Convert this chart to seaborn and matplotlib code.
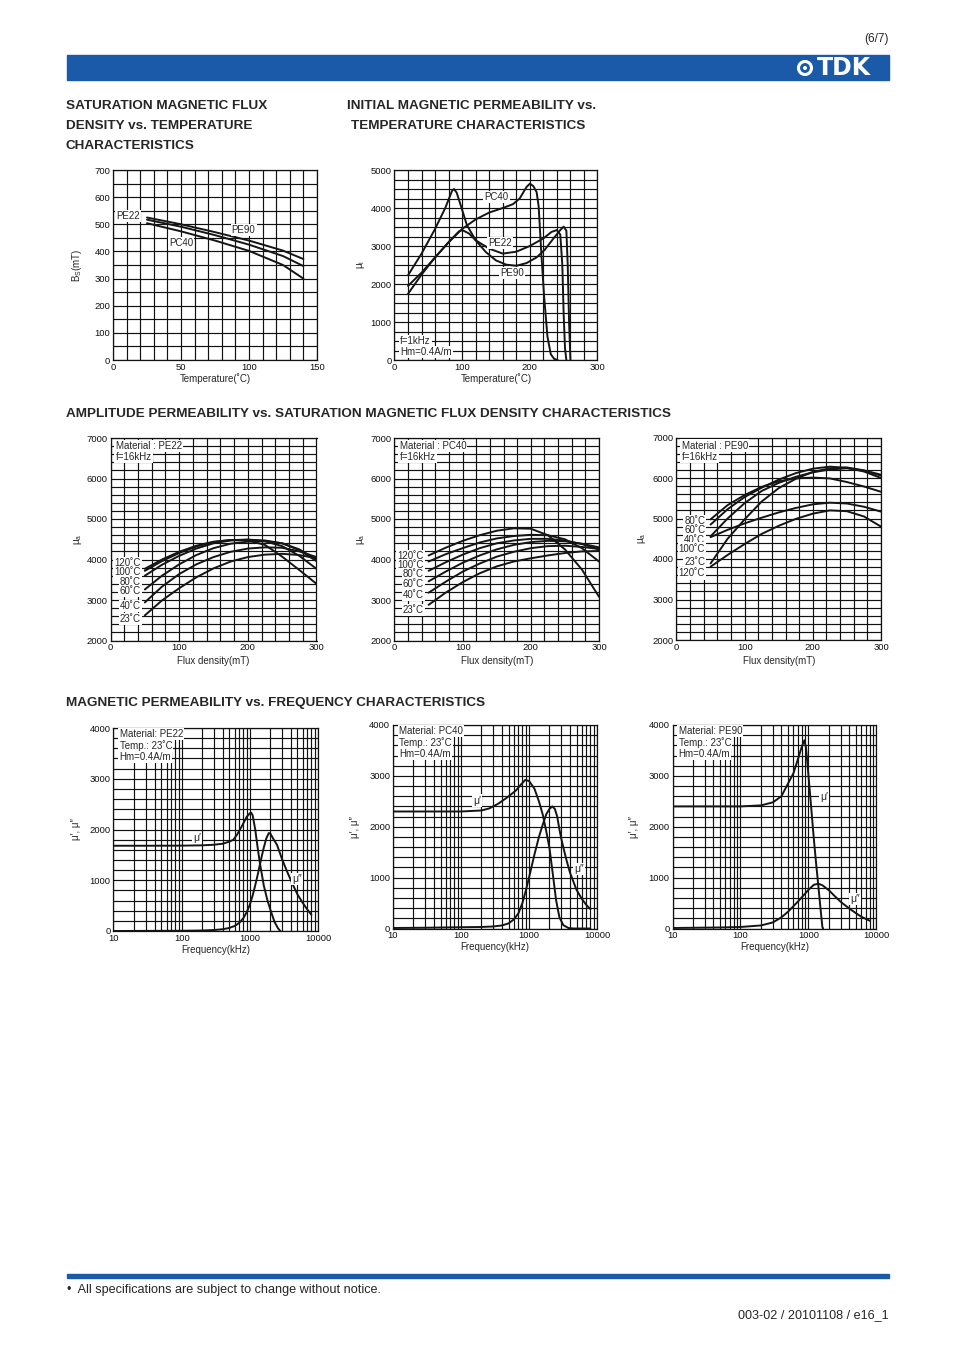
import numpy as np
import pandas as pd
import matplotlib
matplotlib.use("Agg")
import matplotlib.pyplot as plt
import seaborn as sns
from matplotlib.patches import Rectangle, Ellipse
from matplotlib.ticker import FixedLocator, NullFormatter

# ---------------- data ----------------
# Saturation flux density vs temperature
bs_temp = [25, 50, 75, 100, 125, 140]
bs_pe90 = [525, 500, 471, 440, 403, 372]
bs_pe22 = [517, 491, 460, 425, 383, 346]
bs_pc40 = [504, 474, 440, 402, 350, 300]

# Initial permeability vs temperature
mui_pc40_t = [20, 40, 60, 80, 100, 120, 140, 160, 175, 185, 195, 200, 205, 210, 213, 217, 221, 226, 231, 236, 241]
mui_pc40 = [1950, 2300, 2700, 3100, 3450, 3700, 3880, 4000, 4100, 4250, 4550, 4640, 4580, 4420, 4050, 2800, 1700, 620, 150, 30, 0]
mui_pe22_t = [20, 40, 60, 80, 95, 100, 110, 120, 140, 160, 180, 200, 220, 232, 240, 245, 248, 250, 252, 254]
mui_pe22 = [1740, 2250, 2700, 3100, 3380, 3420, 3330, 3150, 2930, 2800, 2850, 3000, 3200, 3370, 3420, 3300, 2500, 1200, 300, 0]
mui_pe90_t = [20, 40, 60, 75, 85, 88, 92, 100, 107, 120, 135, 150, 165, 180, 195, 210, 222, 235, 245, 250, 254, 256, 258, 260]
mui_pe90 = [2230, 2800, 3450, 4000, 4450, 4500, 4400, 3950, 3550, 3150, 2840, 2620, 2510, 2480, 2550, 2700, 2900, 3200, 3420, 3510, 3400, 2500, 1000, 0]

# Amplitude permeability vs flux density
flux = [50, 75, 100, 125, 150, 175, 200, 225, 250, 275, 300]
temps = ["120˚C", "100˚C", "80˚C", "60˚C", "40˚C", "23˚C"]
pe22_mua = [
    [3770, 4000, 4190, 4340, 4440, 4480, 4470, 4360, 4070, 3740, 3400],
    [3720, 3960, 4160, 4320, 4430, 4480, 4490, 4450, 4330, 4090, 3770],
    [3600, 3870, 4090, 4270, 4400, 4470, 4490, 4470, 4400, 4230, 3960],
    [3260, 3600, 3880, 4110, 4280, 4390, 4440, 4450, 4400, 4250, 4000],
    [2940, 3330, 3640, 3880, 4060, 4190, 4270, 4300, 4290, 4200, 4060],
    [2620, 2990, 3290, 3560, 3780, 3950, 4060, 4120, 4140, 4110, 4030],
]
pc40_mua = [
    [4100, 4290, 4460, 4600, 4710, 4770, 4760, 4600, 4250, 3750, 3080],
    [3950, 4130, 4280, 4420, 4520, 4580, 4610, 4600, 4500, 4280, 3950],
    [3720, 3930, 4120, 4280, 4400, 4470, 4510, 4510, 4470, 4380, 4250],
    [3460, 3700, 3920, 4100, 4250, 4360, 4430, 4460, 4450, 4390, 4300],
    [3180, 3450, 3700, 3900, 4070, 4190, 4280, 4330, 4340, 4310, 4260],
    [2880, 3180, 3440, 3660, 3830, 3950, 4030, 4100, 4160, 4200, 4210],
]
pe90_temps = ["80˚C", "60˚C", "40˚C", "100˚C", "23˚C", "120˚C"]
pe90_mua = [
    [4980, 5330, 5580, 5780, 5920, 5990, 6010, 5990, 5900, 5790, 5660],
    [4850, 5230, 5530, 5760, 5960, 6120, 6230, 6280, 6250, 6160, 6000],
    [4560, 5000, 5380, 5680, 5880, 6030, 6140, 6210, 6240, 6180, 6060],
    [4540, 4720, 4880, 5020, 5150, 5260, 5350, 5390, 5370, 5290, 5170],
    [3890, 4500, 4980, 5420, 5750, 5980, 6150, 6240, 6260, 6190, 6080],
    [3810, 4100, 4370, 4620, 4820, 4990, 5120, 5200, 5180, 5050, 4800],
]

# Complex permeability vs frequency
pe22_mu1_f = [10, 30, 100, 200, 300, 400, 500, 575, 650, 760, 900, 1000, 1050, 1100, 1200, 1300, 1400, 1600, 1800, 2000, 2300, 2600, 2800]
pe22_mu1 = [1680, 1680, 1682, 1688, 1700, 1720, 1760, 1800, 1900, 2060, 2250, 2320, 2330, 2280, 2000, 1650, 1350, 900, 620, 420, 180, 50, 0]
pe22_mu2_f = [10, 100, 200, 300, 400, 500, 600, 700, 800, 900, 1000, 1100, 1200, 1300, 1400, 1500, 1600, 1750, 1900, 2000, 2200, 2500, 3000, 3500, 4000, 4500, 5000, 6000, 7000, 8000]
pe22_mu2 = [0, 5, 10, 20, 35, 60, 100, 160, 250, 370, 520, 700, 900, 1100, 1300, 1480, 1640, 1830, 1930, 1920, 1820, 1700, 1400, 1180, 1000, 850, 720, 550, 420, 320]

pc40_mu1_f = [10, 100, 200, 260, 350, 460, 550, 650, 750, 880, 1000, 1200, 1400, 1600, 1800, 2000, 2250, 2500, 2800, 3200, 3800, 4500, 8000]
pc40_mu1 = [2300, 2300, 2320, 2360, 2450, 2560, 2640, 2720, 2820, 2920, 2900, 2750, 2500, 2230, 1900, 1580, 1050, 560, 220, 65, 10, 0, 0]
pc40_mu2_f = [10, 30, 100, 200, 300, 400, 500, 600, 700, 800, 900, 1000, 1200, 1400, 1600, 1800, 2000, 2200, 2400, 2600, 2800, 3000, 3500, 4000, 5000, 6000, 7000, 8000]
pc40_mu2 = [10, 15, 25, 30, 40, 60, 100, 180, 300, 500, 750, 1000, 1450, 1800, 2050, 2250, 2350, 2400, 2350, 2200, 1950, 1750, 1380, 1100, 760, 580, 460, 380]

pe90_mu1_f = [10, 100, 200, 300, 400, 500, 600, 700, 800, 870, 920, 1000, 1100, 1200, 1300, 1400, 1500, 1600, 1640]
pe90_mu1 = [2400, 2400, 2420, 2480, 2600, 2850, 3050, 3330, 3580, 3700, 3550, 3000, 2350, 1750, 1250, 820, 400, 30, 0]
pe90_mu2_f = [10, 50, 100, 200, 300, 400, 500, 700, 1000, 1200, 1400, 1600, 2000, 2500, 3000, 4000, 5000, 6000, 8000]
pe90_mu2 = [10, 20, 30, 60, 120, 220, 330, 530, 760, 860, 880, 850, 750, 620, 520, 390, 300, 230, 150]

# ---------------- style ----------------
sns.set_theme(style="white")
plt.rcParams['font.family'] = ['Liberation Sans', 'DejaVu Sans']
plt.rcParams['mathtext.fontset'] = 'custom'
plt.rcParams['mathtext.rm'] = 'Liberation Sans'
plt.rcParams['mathtext.it'] = 'Liberation Sans:italic'

W, H = 954, 1351
fig = plt.figure(figsize=(W / 100, H / 100), dpi=100)
BLUE = "#1a5aa8"
TS = 6.8
TG = 7.0
LW = 1.4


def ax_px(l, t, r, b):
    return fig.add_axes([l / W, 1 - b / H, (r - l) / W, (b - t) / H])


def draw(ax, series):
    rows = []
    for name, xs, ys in series:
        for x, y in zip(xs, ys):
            rows.append((name, x, y))
    df = pd.DataFrame(rows, columns=["series", "x", "y"])
    sns.lineplot(data=df, x="x", y="y", hue="series", estimator=None, sort=False,
                 palette=["#151515"] * len(series), legend=False, ax=ax, lw=LW)


def style(ax, xlim, ylim, xmaj, ymaj, xgrid, ygrid, log=False):
    if log:
        ax.set_xscale("log")
    ax.set_xlim(xlim)
    ax.set_ylim(ylim)
    ax.xaxis.set_major_locator(FixedLocator(xmaj))
    ax.set_xticklabels([str(v) for v in xmaj])
    ax.xaxis.set_minor_locator(FixedLocator(xgrid))
    ax.xaxis.set_minor_formatter(NullFormatter())
    ax.yaxis.set_major_locator(FixedLocator(ymaj))
    ax.set_yticklabels([str(v) for v in ymaj])
    ax.yaxis.set_minor_locator(FixedLocator(ygrid))
    ax.set_axisbelow(True)
    ax.grid(True, which="both", color="#111111", lw=0.85)
    ax.tick_params(which="both", length=0, labelsize=TS, pad=2, colors="#111111")
    for s in ax.spines.values():
        s.set_color("#111111")
        s.set_linewidth(0.9)


def labels(ax, xl, yl, xtop_px, yright_px, axbox):
    l, t, r, b = axbox
    ax.set_xlabel(xl, fontsize=7)
    ax.set_ylabel(yl, fontsize=7)
    ax.xaxis.set_label_coords(0.5, -(xtop_px - b) / (b - t))
    ax.yaxis.set_label_coords((yright_px - l) / (r - l), 0.5)


WB = dict(boxstyle="square,pad=0.12", fc="white", ec="none")


def tag(ax, x, y, s, ha="center", trans=None, size=TG):
    ax.text(x, y, s, ha=ha, va="center", fontsize=size, bbox=WB,
            transform=trans if trans is not None else ax.transData, zorder=5)


# ---------------- header / footer ----------------
fig.patches.append(Rectangle((67 / W, 1 - 80 / H), (889 - 67) / W, 25 / H,
                             transform=fig.transFigure, color=BLUE, zorder=0))
fig.text(889 / W, 1 - 39 / H, "(6/7)", ha="right", va="center", fontsize=8.5)
fig.text(871 / W, 1 - 68 / H, "TDK", ha="right", va="center", fontsize=17,
         fontweight="bold", color="white", family="DejaVu Sans")
fig.patches.append(Ellipse((805 / W, 1 - 68 / H), 13 / W, 13 / H, transform=fig.transFigure,
                           fc="none", ec="white", lw=2.2))
fig.patches.append(Ellipse((805 / W, 1 - 68 / H), 4 / W, 4 / H, transform=fig.transFigure,
                           fc="white", ec="none"))
fig.patches.append(Rectangle((67 / W, 1 - 1278 / H), (889 - 67) / W, 4 / H,
                             transform=fig.transFigure, color=BLUE))
fig.text(67 / W, 1 - 1290 / H, "•  All specifications are subject to change without notice.",
         ha="left", va="center", fontsize=9.1)
fig.text(889 / W, 1 - 1315 / H, "003-02 / 20101108 / e16_1", ha="right", va="center", fontsize=9.1)

TF = 9.7
fig.text(66 / W, 1 - 106 / H, "SATURATION MAGNETIC FLUX", fontsize=TF, fontweight="bold", va="center")
fig.text(66 / W, 1 - 126 / H, "DENSITY vs. TEMPERATURE", fontsize=TF, fontweight="bold", va="center")
fig.text(66 / W, 1 - 146 / H, "CHARACTERISTICS", fontsize=TF, fontweight="bold", va="center")
fig.text(347 / W, 1 - 106 / H, "INITIAL MAGNETIC PERMEABILITY vs.", fontsize=TF, fontweight="bold", va="center")
fig.text(351 / W, 1 - 126 / H, "TEMPERATURE CHARACTERISTICS", fontsize=TF, fontweight="bold", va="center")
fig.text(66 / W, 1 - 414 / H, "AMPLITUDE PERMEABILITY vs. SATURATION MAGNETIC FLUX DENSITY CHARACTERISTICS",
         fontsize=TF, fontweight="bold", va="center")
fig.text(66 / W, 1 - 703 / H, "MAGNETIC PERMEABILITY vs. FREQUENCY CHARACTERISTICS",
         fontsize=TF, fontweight="bold", va="center")

# ---------------- chart 1: Bs vs T ----------------
box = (113, 170, 317, 360)
ax = ax_px(*box)
draw(ax, [("PE90", bs_temp, bs_pe90), ("PE22", bs_temp, bs_pe22), ("PC40", bs_temp, bs_pc40)])
style(ax, (0, 150), (0, 700), [0, 50, 100, 150], list(range(0, 701, 100)),
      list(range(0, 151, 10)), list(range(0, 701, 50)))
labels(ax, "Temperature(˚C)", r"B$_\mathrm{S}$(mT)", 373, 84, box)
tag(ax, 11, 530, "PE22")
tag(ax, 96, 479, "PE90")
tag(ax, 50, 431, "PC40")

# ---------------- chart 2: mu_i vs T ----------------
box = (394.5, 170, 597.5, 360)
ax = ax_px(*box)
draw(ax, [("PC40", mui_pc40_t, mui_pc40), ("PE22", mui_pe22_t, mui_pe22), ("PE90", mui_pe90_t, mui_pe90)])
style(ax, (0, 300), (0, 5000), [0, 100, 200, 300], list(range(0, 5001, 1000)),
      list(range(0, 301, 20)), list(range(0, 5001, 250)))
labels(ax, "Temperature(˚C)", r"μ$_\mathrm{i}$", 373, 367, box)
tag(ax, 151, 4290, "PC40")
tag(ax, 156, 3079, "PE22")
tag(ax, 174, 2290, "PE90")
tag(ax, 0.027, 0.10, "f=1kHz", ha="left", trans=ax.transAxes)
tag(ax, 0.027, 0.042, "Hm=0.4A/m", ha="left", trans=ax.transAxes)

# ---------------- amplitude permeability charts ----------------
amp = [
    ((110.5, 438, 316.5, 640.5), "PE22", temps, pe22_mua, 84, 44,
     [3914, 3691, 3444, 3222, 2852, 2531]),
    ((394.5, 438, 599, 640.5), "PC40", temps, pc40_mua, 367, 43,
     [4086, 3864, 3642, 3395, 3123, 2753]),
    ((676.5, 437.5, 881, 640), "PE90", pe90_temps, pe90_mua, 648, 42,
     [4946, 4704, 4481, 4259, 3938, 3642]),
]
for box, mat, tl, vals, yr, lx, ly in amp:
    ax = ax_px(*box)
    draw(ax, [(t, flux, v) for t, v in zip(tl, vals)])
    style(ax, (0, 300), (2000, 7000), [0, 100, 200, 300], list(range(2000, 7001, 1000)),
          list(range(0, 301, 20)), list(range(2000, 7001, 200)))
    labels(ax, "Flux density(mT)", r"μ$_\mathrm{a}$", 656, yr, box)
    tag(ax, 0.025, 0.96, "Material : " + mat, ha="left", trans=ax.transAxes)
    tag(ax, 0.025, 0.906, "f=16kHz", ha="left", trans=ax.transAxes)
    for t, y in zip(tl, ly):
        tag(ax, lx, y, t, ha="right")

# ---------------- frequency charts ----------------
fmaj = [10, 100, 1000, 10000]
fgrid = [m * 10 ** e for e in range(1, 4) for m in range(1, 10)] + [10000]
freq = [
    ((113.5, 728, 318, 931), "PE22", pe22_mu1_f, pe22_mu1, pe22_mu2_f, pe22_mu2, 81,
     (168, 1832), (4900, 1025)),
    ((393, 725, 597, 928.5), "PC40", pc40_mu1_f, pc40_mu1, pc40_mu2_f, pc40_mu2, 360,
     (172, 2512), (5430, 1172)),
    ((672.5, 725, 876.5, 928.5), "PE90", pe90_mu1_f, pe90_mu1, pe90_mu2_f, pe90_mu2, 639,
     (1700, 2591), (4830, 581)),
]
for box, mat, f1, m1, f2, m2, yr, p1, p2 in freq:
    ax = ax_px(*box)
    draw(ax, [("mu1", f1, m1), ("mu2", f2, m2)])
    style(ax, (10, 10000), (0, 4000), fmaj, list(range(0, 4001, 1000)),
          fgrid, list(range(0, 4001, 200)), log=True)
    labels(ax, "Frequency(kHz)", "μ′, μ″", box[3] + 14, yr, box)
    h = box[3] - box[1]
    for i, s in enumerate(["Material: " + mat, "Temp.: 23˚C", "Hm=0.4A/m"]):
        tag(ax, 0.03, 1 - (6 + 11.5 * i) / h, s, ha="left", trans=ax.transAxes)
    tag(ax, p1[0], p1[1], "μ′", size=7.5)
    tag(ax, p2[0], p2[1], "μ″", size=7.5)

fig.savefig("out.png", dpi=100, facecolor="white")
